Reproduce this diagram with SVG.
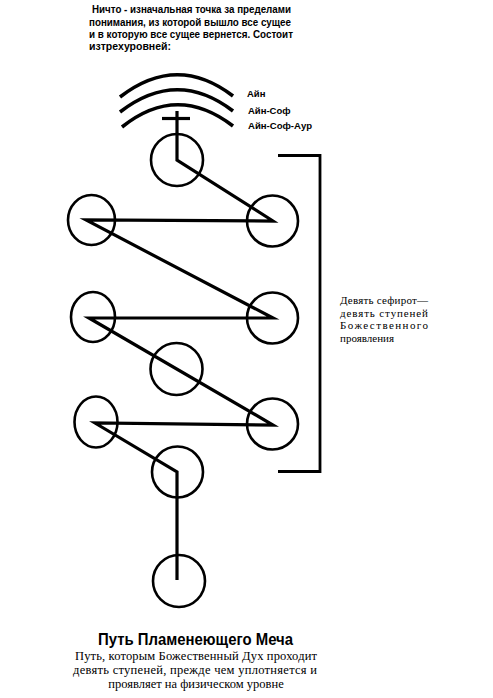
<svg xmlns="http://www.w3.org/2000/svg" width="493" height="698" viewBox="0 0 493 698">
<style>
.node{fill:none;stroke:#000;stroke-width:2.6}
.conn{fill:none;stroke:#000;stroke-width:3.2;stroke-linejoin:miter;stroke-miterlimit:20}
.arc{fill:none;stroke:#000;stroke-width:3.6;stroke-linecap:butt}
.hb{font-family:"Liberation Sans",Arial,sans-serif;font-weight:bold;fill:#000}
.sr{font-family:"Liberation Serif","Times New Roman",serif;fill:#000}
</style>
<rect width="493" height="698" fill="#fff"/>
<g id="header">
<text class="hb" font-size="10.5" x="92" y="13" textLength="199" lengthAdjust="spacingAndGlyphs">Ничто - изначальная точка за пределами</text>
<text class="hb" font-size="10.5" x="89" y="26" textLength="202" lengthAdjust="spacingAndGlyphs">понимания, из которой вышло все сущее</text>
<text class="hb" font-size="10.5" x="89" y="38" textLength="204" lengthAdjust="spacingAndGlyphs">и в которую все сущее вернется. Состоит</text>
<text class="hb" font-size="10.5" x="89" y="50" textLength="82" lengthAdjust="spacing">изтрехуровней:</text>
</g>
<g id="ain-levels">
<path class="arc" d="M120,97 Q177,53 233,96"/>
<path class="arc" d="M120,112 Q177,68 233,111"/>
<path class="arc" d="M122,127 Q177,83 233,126"/>
<text class="hb" font-size="9.5" x="247" y="97">Айн</text>
<text class="hb" font-size="9.5" x="248" y="114">Айн-Соф</text>
<text class="hb" font-size="9.5" x="248" y="129" textLength="64" lengthAdjust="spacingAndGlyphs">Айн-Соф-Аур</text>
</g>
<g id="cross">
<line class="conn" x1="162" y1="118.5" x2="190" y2="118.5"/>
</g>
<g id="connectors">
<polyline class="conn" points="177,111 177,160 273,221 86,220 273,318 89,318 273,425 95,423 177,472 177,580"/>
</g>
<g id="n0"><circle class="node" cx="177" cy="160" r="26"/></g>
<g id="n1"><circle class="node" cx="272.5" cy="221" r="25.5"/></g>
<g id="n2"><ellipse class="node" cx="91.5" cy="220" rx="23.5" ry="25"/></g>
<g id="n3"><circle class="node" cx="272.5" cy="318" r="25.5"/></g>
<g id="n4"><ellipse class="node" cx="93" cy="317" rx="22" ry="25"/></g>
<g id="n5"><circle class="node" cx="176.5" cy="369" r="26"/></g>
<g id="n6"><circle class="node" cx="272.5" cy="424" r="25.5"/></g>
<g id="n7"><ellipse class="node" cx="96" cy="422" rx="21.5" ry="25.5"/></g>
<g id="n8"><circle class="node" cx="177.5" cy="472" r="25.5"/></g>
<g id="n9"><circle class="node" cx="179" cy="581" r="26"/></g>
<g id="bracket">
<polyline fill="none" stroke="#000" stroke-width="2.8" points="278,155.5 320,155.5 320,471.5 278,471.5"/>
<text class="sr" font-size="11" x="340" y="304" textLength="88" lengthAdjust="spacing">Девять сефирот—</text>
<text class="sr" font-size="11" x="340" y="316.5" textLength="88" lengthAdjust="spacing">девять   ступеней</text>
<text class="sr" font-size="11" x="340" y="329" textLength="88" lengthAdjust="spacing">Божественного</text>
<text class="sr" font-size="11" x="340" y="341.5">проявления</text>
</g>
<g id="caption">
<text class="hb" font-size="16" x="98" y="645" textLength="195" lengthAdjust="spacingAndGlyphs">Путь Пламенеющего Меча</text>
<text class="sr" font-size="12.5" x="75" y="660" textLength="242" lengthAdjust="spacing">Путь, которым Божественный Дух проходит</text>
<text class="sr" font-size="12.5" x="73" y="674" textLength="244" lengthAdjust="spacing">девять ступеней, прежде чем уплотняется и</text>
<text class="sr" font-size="12.5" x="196" y="688" text-anchor="middle">проявляет на физическом уровне</text>
</g>
</svg>
